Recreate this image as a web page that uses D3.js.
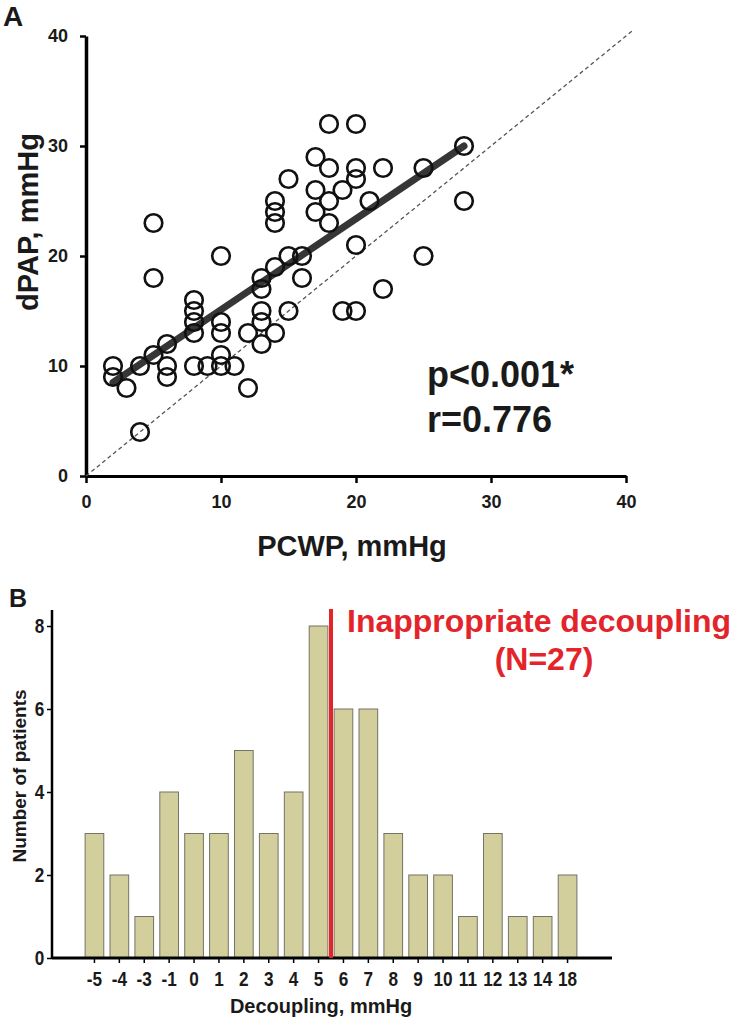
<!DOCTYPE html>
<html>
<head>
<meta charset="utf-8">
<script src="https://cdn.jsdelivr.net/npm/d3@7"></script>
<style>
  body { margin: 0; background: #fff; }
  svg { display: block; font-family: "Liberation Sans", Arial, sans-serif; font-weight: bold; }
</style>
</head>
<body>
<div id="chart"></div>
<script>
// Panel A: PCWP (x) vs dPAP (y), mmHg
const pcwp = [2, 2, 3, 4, 4, 5, 5, 5, 6, 6, 6,
  8, 8, 8, 8, 8, 9,
  10, 10, 10, 10, 10, 11, 12, 12,
  13, 13, 13, 13, 13, 14, 14, 14, 14, 14,
  15, 15, 15, 16, 16,
  17, 17, 17, 18, 18, 18, 18, 19, 19,
  20, 20, 20, 20, 20, 21, 22, 22, 25, 25, 28, 28];
const dpap = [10, 9, 8, 10, 4, 11, 23, 18, 12, 10, 9,
  16, 15, 14, 13, 10, 10,
  20, 14, 13, 11, 10, 10, 8, 13,
  18, 17, 15, 14, 12, 13, 19, 25, 24, 23,
  15, 20, 27, 20, 18,
  29, 26, 24, 32, 28, 25, 23, 26, 15,
  32, 28, 27, 21, 15, 25, 28, 17, 28, 20, 30, 25];
const fitX = [2, 28];
const fitY = [8.5, 30];
const identity = [0, 40.5];
const scatterTicks = [0, 10, 20, 30, 40];
const stats = ["p<0.001*", "r=0.776"];

// Panel B: decoupling histogram
const decoupling = ["-5", "-4", "-3", "-1", "0", "1", "2", "3", "4", "5", "6", "7", "8", "9", "10", "11", "12", "13", "14", "18"];
const patients = [3, 2, 1, 4, 3, 3, 5, 3, 4, 8, 6, 6, 3, 2, 2, 1, 3, 1, 1, 2];
const histTicks = [0, 2, 4, 6, 8];
const cutoffAfter = "5";

const W = 736, H = 1020;
const svg = d3.select("#chart").append("svg").attr("width", W).attr("height", H);

// ---------- Panel A ----------
const x = d3.scaleLinear().domain([0, 40]).range([86, 626]);
const y = d3.scaleLinear().domain([0, 40]).range([476, 36]);

const gA = svg.append("g");

gA.append("g")
  .attr("transform", `translate(0,${y(0)})`)
  .call(d3.axisBottom(x).tickValues(scatterTicks).tickSizeInner(7).tickSizeOuter(0).tickPadding(12))
  .call(g => g.select(".domain").attr("stroke-width", 3))
  .call(g => g.selectAll(".tick line").attr("stroke-width", 2.5))
  .call(g => g.selectAll(".tick text").attr("font-size", 18).attr("font-weight", "bold").attr("fill", "#1a1a1a"));

gA.append("g")
  .attr("transform", `translate(${x(0)},0)`)
  .call(d3.axisLeft(y).tickValues(scatterTicks).tickSizeInner(6).tickSizeOuter(0).tickPadding(12))
  .call(g => g.select(".domain").attr("stroke-width", 3.5))
  .call(g => g.selectAll(".tick line").attr("stroke-width", 2.5))
  .call(g => g.selectAll(".tick text").attr("font-size", 18).attr("font-weight", "bold").attr("fill", "#1a1a1a"));

// dashed line of identity
gA.append("line")
  .attr("x1", x(identity[0])).attr("y1", y(identity[0]))
  .attr("x2", x(identity[1])).attr("y2", y(identity[1]))
  .attr("stroke", "#555").attr("stroke-width", 1.3).attr("stroke-dasharray", "4,3");

// regression line
gA.append("line")
  .attr("x1", x(fitX[0])).attr("y1", y(fitY[0]))
  .attr("x2", x(fitX[1])).attr("y2", y(fitY[1]))
  .attr("stroke", "#363636").attr("stroke-width", 7).attr("stroke-linecap", "round");

gA.append("g")
  .selectAll("circle")
  .data(d3.zip(pcwp, dpap))
  .join("circle")
  .attr("cx", d => x(d[0]))
  .attr("cy", d => y(d[1]))
  .attr("r", 8.8)
  .attr("fill", "none")
  .attr("stroke", "#111")
  .attr("stroke-width", 2.6);

gA.append("text").attr("x", 3).attr("y", 26).attr("font-size", 28).attr("fill", "#1a1a1a").text("A");

gA.append("text")
  .attr("transform", "translate(38,222) rotate(-90)")
  .attr("text-anchor", "middle").attr("font-size", 29).attr("fill", "#1a1a1a")
  .text("dPAP, mmHg");

gA.append("text")
  .attr("x", 352).attr("y", 556)
  .attr("text-anchor", "middle").attr("font-size", 29).attr("fill", "#1a1a1a")
  .text("PCWP, mmHg");

gA.selectAll(".stat")
  .data(stats)
  .join("text")
  .attr("class", "stat")
  .attr("x", 427).attr("y", (d, i) => 387 + i * 45)
  .attr("font-size", 36).attr("fill", "#1a1a1a")
  .text(d => d);

// ---------- Panel B ----------
const xb = d3.scaleBand().domain(decoupling).range([82, 580]).paddingInner(0.25).paddingOuter(0.125);
const yb = d3.scaleLinear().domain([0, 8]).range([958, 626]);

const gB = svg.append("g");

gB.append("g")
  .selectAll("rect")
  .data(d3.zip(decoupling, patients))
  .join("rect")
  .attr("x", d => xb(d[0]))
  .attr("y", d => yb(d[1]))
  .attr("width", xb.bandwidth())
  .attr("height", d => yb(0) - yb(d[1]))
  .attr("fill", "#d3cf9d")
  .attr("stroke", "#737366")
  .attr("stroke-width", 1);

// labels in panel B are a narrow bold face, squeezed horizontally
gB.append("g")
  .attr("transform", `translate(0,${yb(0)})`)
  .call(d3.axisBottom(xb).tickSizeInner(5).tickSizeOuter(0).tickPadding(9))
  .call(g => g.select(".domain").attr("d", `M52,0H612`).attr("stroke-width", 3))
  .call(g => g.selectAll(".tick line").attr("stroke-width", 1.5))
  .call(g => g.selectAll(".tick text").attr("font-size", 20).attr("font-weight", "bold")
    .attr("fill", "#1a1a1a").attr("transform", "scale(0.86,1)"));

gB.append("g")
  .attr("transform", "translate(52,0)")
  .call(d3.axisLeft(yb).tickValues(histTicks).tickFormat(d3.format("d")).tickSizeInner(5).tickSizeOuter(0).tickPadding(4))
  .call(g => g.select(".domain").attr("d", `M0,610V${yb(0)}`).attr("stroke-width", 2.5))
  .call(g => g.selectAll(".tick line").attr("stroke-width", 1.5))
  .call(g => g.selectAll(".tick text").attr("font-size", 20).attr("font-weight", "bold")
    .attr("fill", "#1a1a1a").attr("transform", "scale(0.86,1)"));

// cutoff between 5 and 6
const cutX = xb(cutoffAfter) + xb.bandwidth() + xb.step() * xb.paddingInner() / 2;
gB.append("line")
  .attr("x1", cutX).attr("x2", cutX)
  .attr("y1", 609).attr("y2", yb(0))
  .attr("stroke", "#e3242b").attr("stroke-width", 4);

gB.append("text")
  .attr("x", cutX + 16).attr("y", 632)
  .attr("font-size", 32).attr("fill", "#e3242b")
  .text("Inappropriate decoupling");

gB.append("text")
  .attr("x", 544).attr("y", 670)
  .attr("text-anchor", "middle").attr("font-size", 32).attr("fill", "#e3242b")
  .text("(N=27)");

gB.append("text").attr("x", 9).attr("y", 607).attr("font-size", 25).attr("fill", "#1a1a1a").text("B");

gB.append("text")
  .attr("transform", "translate(26,776) rotate(-90)")
  .attr("text-anchor", "middle").attr("font-size", 19).attr("fill", "#1a1a1a")
  .text("Number of patients");

gB.append("text")
  .attr("x", 321).attr("y", 1013)
  .attr("text-anchor", "middle").attr("font-size", 20).attr("fill", "#1a1a1a")
  .text("Decoupling, mmHg");
</script>
</body>
</html>
